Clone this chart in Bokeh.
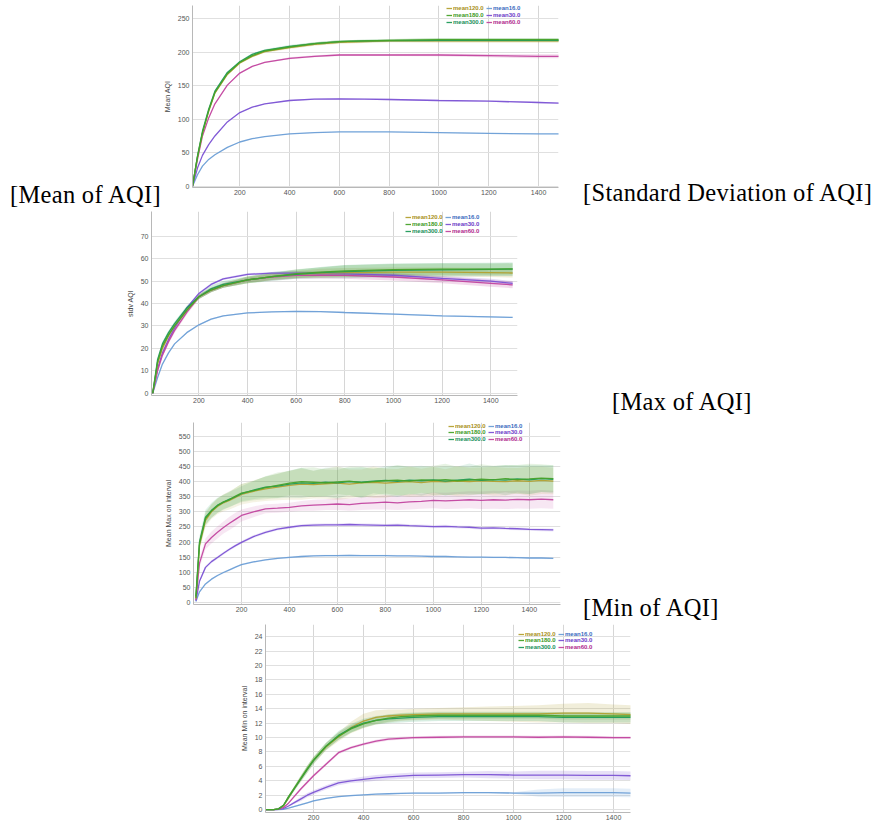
import numpy as np
from bokeh.plotting import figure
from bokeh.models import Legend, LegendItem, FixedTicker, Range1d, Div
from bokeh.embed import file_html
from bokeh.resources import INLINE

# ---------------- data ----------------
SERIES = ["mean120.0", "mean16.0", "mean180.0", "mean30.0", "mean300.0", "mean60.0"]
DRAW_ORDER = ["mean16.0", "mean30.0", "mean60.0", "mean120.0", "mean300.0", "mean180.0"]
LINE_COLORS = {"mean16.0": "#6b9ed6", "mean30.0": "#7b52d4", "mean60.0": "#c2459f",
               "mean120.0": "#b3a032", "mean180.0": "#47a22a", "mean300.0": "#1f9a5a"}
TEXT_COLORS = {"mean16.0": "#3a6cc0", "mean30.0": "#6a3cc8", "mean60.0": "#b02a8e",
               "mean120.0": "#a89020", "mean180.0": "#3c9a1e", "mean300.0": "#18905a"}
X_TICKS = [200, 400, 600, 800, 1000, 1200, 1400]

# Panel 1: Mean of AQI
X_MEAN = [10, 30, 50, 75, 100, 150, 200, 250, 300, 400, 500, 600, 700, 800, 1000, 1200, 1400, 1490]
MEAN_AQI = {
    "mean300.0": [0, 45, 82, 115, 142, 170, 186, 197, 203, 209, 213, 216, 217, 217.5, 218, 218, 218, 218],
    "mean180.0": [0, 44, 80, 113, 140, 168, 185, 195, 202, 208, 213, 216, 217, 218, 219, 219, 219, 219],
    "mean120.0": [0, 43, 79, 112, 139, 167, 184, 194, 201, 207, 212, 215, 216, 217, 217, 217, 217, 217],
    "mean60.0":  [0, 40, 75, 102, 123, 151, 169, 179, 185, 191, 194, 196, 196, 196, 196, 195, 194, 194],
    "mean30.0":  [0, 27, 46, 62, 75, 96, 110, 118, 123, 128, 130, 130.5, 130, 129.5, 128, 127, 125, 124],
    "mean16.0":  [0, 17, 30, 40, 47, 58, 66, 71, 74, 78, 80, 81, 81, 81, 80, 79, 78, 78],
}
MEAN_AQI_BAND = {
    "mean300.0": [0, 1, 1, 1, 1, 1, 1.5, 1.5, 1.5, 2, 2, 2, 2, 2, 2.5, 2.5, 2.5, 2.5],
    "mean180.0": [0, 1, 1, 1, 1, 1, 1.5, 1.5, 1.5, 2, 2, 2, 2, 2, 2.5, 2.5, 2.5, 2.5],
    "mean120.0": [0, 1, 1, 1, 1, 1, 1.5, 1.5, 1.5, 2, 2, 2, 2, 2, 2.5, 2.5, 2.5, 2.5],
    "mean60.0":  [0, 1, 1, 1, 1, 1, 1, 1, 1, 1.5, 1.5, 1.5, 1.5, 1.5, 2, 2.5, 3, 3],
    "mean30.0":  [0, 0.5, 0.5, 0.5, 0.5, 0.5, 0.5, 0.5, 0.5, 1, 1, 1, 1, 1, 1, 1, 1, 1],
    "mean16.0":  [0, 0.5, 0.5, 0.5, 0.5, 0.5, 0.5, 0.5, 0.5, 0.5, 0.5, 0.5, 0.5, 0.5, 0.5, 0.5, 0.5, 0.5],
}

# Panel 2: Standard deviation of AQI
X_STD = X_MEAN
STD_AQI = {
    "mean300.0": [0, 15, 22, 27, 31, 38, 43, 46.5, 48.5, 50.5, 52, 53, 53.8, 54.2, 54.8, 55, 55.2, 55.3],
    "mean180.0": [0, 14, 21, 26, 30, 37, 43, 46, 48, 50.5, 52, 53.3, 54, 54.5, 55.1, 55.3, 55.3, 55.4],
    "mean120.0": [0, 13, 20, 25.5, 30, 37, 43, 46, 48, 50.5, 52, 53, 53.5, 53.8, 54, 54, 53.8, 53.6],
    "mean60.0":  [0, 10, 17, 23, 28, 36, 43, 46, 48, 50.5, 51.8, 52.5, 52.6, 52.5, 51.8, 50.5, 49, 48.3],
    "mean30.0":  [0, 11, 18, 24, 29, 38, 44.5, 48.5, 51, 53, 53.5, 53.5, 53.3, 53.2, 52.6, 51.2, 50, 49],
    "mean16.0":  [0, 7, 13, 18, 22, 27, 30.5, 33, 34.5, 35.8, 36.3, 36.5, 36.4, 36.0, 35.3, 34.5, 34.0, 33.8],
}
STD_AQI_BAND = {
    "mean300.0": [0, 1, 1, 1, 1, 1, 1, 1.5, 1.5, 1.5, 2, 2, 2.5, 3, 3, 3, 3, 3],
    "mean180.0": [0, 1, 1, 1, 1, 1, 1, 1, 1, 1.5, 1.5, 2, 2, 2.5, 2.5, 2.5, 2.5, 2.5],
    "mean120.0": [0, 1, 1, 1, 1, 1, 1, 1, 1, 1.5, 1.5, 1.5, 2, 2, 2, 2, 2, 2],
    "mean60.0":  [0, 1, 1, 1, 1, 1, 1, 1, 1, 1, 1.5, 1.5, 1.5, 1.5, 1.5, 1.5, 1.5, 1.5],
    "mean30.0":  [0, 0.5, 0.5, 0.5, 0.5, 0.5, 0.5, 0.5, 0.5, 0.5, 0.5, 1, 1, 1, 1, 1, 1, 1],
    "mean16.0":  [0, 0.3, 0.3, 0.3, 0.3, 0.3, 0.3, 0.3, 0.3, 0.3, 0.3, 0.3, 0.3, 0.3, 0.3, 0.3, 0.3, 0.3],
}

# Panel 3: Max of AQI
X_MAX = [10, 25, 50, 75, 100, 125, 150, 175, 200, 250, 300, 350, 400, 450, 500, 550, 600, 650,
         700, 750, 800, 850, 900, 950, 1000, 1050, 1100, 1150, 1200, 1250, 1300, 1350, 1400, 1450, 1500]
MAX_AQI = {
    "mean300.0": [20, 200, 282, 305, 322, 332, 342, 350, 360, 372, 382, 385, 392, 396, 394, 398, 396, 400,
                  398, 402, 404, 401, 405, 403, 406, 402, 405, 408, 404, 407, 405, 409, 406, 410, 408],
    "mean180.0": [15, 195, 278, 303, 320, 333, 340, 352, 362, 370, 380, 388, 395, 400, 398, 396, 399, 402,
                  397, 400, 403, 405, 402, 406, 404, 407, 403, 405, 408, 406, 410, 407, 409, 412, 410],
    "mean120.0": [12, 190, 272, 300, 318, 330, 338, 348, 358, 368, 376, 382, 388, 392, 390, 393, 395, 392,
                  396, 398, 395, 398, 400, 397, 401, 399, 402, 400, 403, 401, 400, 403, 401, 404, 402],
    "mean60.0":  [8, 130, 194, 215, 232, 248, 262, 275, 288, 300, 310, 312, 315, 320, 322, 324, 326, 324,
                  328, 330, 332, 330, 333, 335, 338, 336, 338, 340, 338, 340, 339, 341, 340, 342, 340],
    "mean30.0":  [5, 70, 116, 135, 149, 163, 176, 188, 199, 218, 232, 243, 249, 254, 256, 257, 257, 258,
                  257, 256, 255, 256, 254, 253, 251, 252, 250, 249, 246, 247, 245, 244, 242, 241, 240],
    "mean16.0":  [3, 35, 61, 77, 89, 99, 108, 117, 125, 134, 141, 146, 149, 152, 154, 155, 155, 156,
                  155, 155, 155, 154, 154, 153, 152, 152, 151, 150, 150, 149, 149, 148, 147, 147, 146],
}
MAX_AQI_BAND = {
    "mean300.0": [5, 20, 25, 25, 25, 25, 25, 25, 25, 30, 35, 40, 45, 50, 42, 48, 52, 45,
                  50, 40, 48, 52, 45, 50, 42, 48, 45, 52, 46, 44, 50, 45, 48, 44, 46],
    "mean180.0": [5, 18, 22, 22, 24, 24, 25, 28, 30, 32, 38, 42, 40, 46, 50, 44, 40, 48,
                  52, 46, 42, 50, 47, 43, 49, 52, 46, 44, 50, 47, 45, 48, 50, 46, 44],
    "mean120.0": [5, 18, 22, 24, 26, 28, 30, 32, 34, 36, 40, 44, 48, 52, 46, 50, 56, 48,
                  44, 52, 48, 44, 50, 46, 48, 42, 50, 46, 44, 48, 46, 42, 48, 45, 44],
    "mean60.0":  [3, 15, 18, 20, 20, 20, 22, 22, 20, 18, 15, 15, 15, 16, 18, 18, 20, 20,
                  22, 22, 24, 24, 25, 25, 26, 27, 28, 28, 29, 30, 30, 30, 30, 30, 30],
    "mean30.0":  [2, 4, 5, 5, 5, 5, 5, 5, 5, 5, 5, 5, 5, 5, 5, 5, 5, 5,
                  5, 5, 5, 5, 5, 5, 5, 5, 5, 5, 5, 5, 5, 5, 5, 5, 5],
    "mean16.0":  [1, 2, 3, 3, 3, 3, 3, 3, 3, 3, 3, 3, 3, 3, 3, 3, 3, 3,
                  3, 3, 3, 3, 3, 3, 3, 3, 3, 3, 3, 3, 3, 3, 3, 3, 3],
}

# Panel 4: Min of AQI
X_MIN = [10, 40, 60, 80, 100, 125, 150, 175, 200, 250, 300, 350, 400, 450, 500, 550, 600, 700, 800,
         900, 1000, 1100, 1200, 1300, 1400, 1470]
MIN_AQI = {
    "mean300.0": [0, 0, 0.1, 0.6, 1.7, 3.0, 4.3, 5.6, 6.8, 8.8, 10.3, 11.3, 12.0, 12.4, 12.6, 12.7, 12.8,
                  12.9, 12.9, 12.9, 12.9, 12.9, 12.8, 12.8, 12.8, 12.8],
    "mean180.0": [0, 0, 0.1, 0.6, 1.8, 3.1, 4.4, 5.7, 6.9, 8.8, 10.2, 11.2, 11.9, 12.4, 12.7, 12.9, 13.0,
                  13.1, 13.1, 13.1, 13.1, 13.1, 13.0, 13.0, 13.0, 13.0],
    "mean120.0": [0, 0, 0.1, 0.5, 1.6, 3.0, 4.3, 5.6, 6.8, 8.7, 10.1, 11.4, 12.3, 12.8, 13.0, 13.1, 13.2,
                  13.3, 13.3, 13.3, 13.3, 13.3, 13.4, 13.4, 13.3, 13.2],
    "mean60.0":  [0, 0, 0.05, 0.3, 0.9, 1.9, 2.9, 3.8, 4.7, 6.3, 7.9, 8.6, 9.1, 9.5, 9.8, 9.9, 10.0,
                  10.05, 10.1, 10.1, 10.1, 10.05, 10.1, 10.05, 10.0, 10.0],
    "mean30.0":  [0, 0, 0.02, 0.15, 0.5, 1.0, 1.5, 2.0, 2.4, 3.1, 3.7, 4.0, 4.2, 4.4, 4.55, 4.65, 4.75,
                  4.8, 4.85, 4.85, 4.8, 4.8, 4.8, 4.75, 4.75, 4.7],
    "mean16.0":  [0, 0, 0, 0.05, 0.2, 0.45, 0.7, 0.95, 1.2, 1.55, 1.8, 1.95, 2.05, 2.15, 2.2, 2.25, 2.3,
                  2.3, 2.35, 2.35, 2.3, 2.3, 2.35, 2.35, 2.35, 2.3],
}
MIN_AQI_BAND = {
    "mean300.0": [0, 0, 0, 0.1, 0.2, 0.3, 0.4, 0.5, 0.5, 0.5, 0.6, 0.6, 0.6, 0.6, 0.6, 0.6, 0.6,
                  0.6, 0.6, 0.6, 0.6, 0.6, 0.7, 0.7, 0.7, 0.7],
    "mean180.0": [0, 0, 0, 0.1, 0.2, 0.3, 0.4, 0.4, 0.4, 0.5, 0.5, 0.5, 0.5, 0.5, 0.5, 0.5, 0.5,
                  0.5, 0.5, 0.5, 0.5, 0.5, 0.5, 0.5, 0.5, 0.5],
    "mean120.0": [0, 0, 0, 0.1, 0.2, 0.3, 0.4, 0.5, 0.5, 0.5, 0.6, 0.8, 1.0, 1.0, 0.9, 0.8, 0.8,
                  0.8, 0.9, 1.0, 1.1, 1.2, 1.3, 1.4, 1.3, 1.3],
    "mean60.0":  [0, 0, 0, 0.05, 0.1, 0.2, 0.2, 0.2, 0.2, 0.2, 0.2, 0.2, 0.2, 0.2, 0.2, 0.2, 0.2,
                  0.2, 0.2, 0.2, 0.2, 0.2, 0.2, 0.2, 0.2, 0.2],
    "mean30.0":  [0, 0, 0, 0.05, 0.1, 0.2, 0.3, 0.3, 0.3, 0.3, 0.3, 0.3, 0.4, 0.4, 0.4, 0.4, 0.4,
                  0.4, 0.4, 0.5, 0.5, 0.6, 0.6, 0.6, 0.6, 0.6],
    "mean16.0":  [0, 0, 0, 0, 0.05, 0.1, 0.1, 0.1, 0.1, 0.1, 0.1, 0.1, 0.1, 0.1, 0.1, 0.1, 0.1,
                  0.1, 0.1, 0.1, 0.1, 0.5, 0.6, 0.6, 0.6, 0.6],
}

CAPTIONS = ["[Mean of AQI]", "[Standard Deviation of AQI]", "[Max of AQI]", "[Min of AQI]"]
# caption placement on the page: (left x, top y)
CAPTION_POS = [(5, 176), (578, 174), (607, 383), (578, 589)]

PAGE_W = 877
FONT = "Liberation Sans"
SERIF = "Liberation Serif"


def make_panel(xs, data, band, H, T, B, left, right_edge, xr, yr, yticks, ylabel, legend_rows,
               band_alpha):
    R = PAGE_W - right_edge
    p = figure(width=PAGE_W, height=H, x_range=Range1d(*xr), y_range=Range1d(*yr),
               output_backend="svg", toolbar_location=None,
               min_border_left=left, min_border_right=R, min_border_top=T, min_border_bottom=B)
    p.outline_line_color = None
    p.background_fill_color = "white"
    p.border_fill_color = None
    p.border_fill_alpha = 0

    frame_w = PAGE_W - left - R
    frame_h = H - T - B

    xa = p.xaxis[0]
    ya = p.yaxis[0]
    xa.ticker = FixedTicker(ticks=X_TICKS)
    ya.ticker = FixedTicker(ticks=yticks)
    for ax in (xa, ya):
        ax.axis_line_color = "#b8b8b8"
        ax.major_tick_line_color = None
        ax.minor_tick_line_color = None
        ax.major_tick_out = 0
        ax.major_tick_in = 0
        ax.minor_tick_out = 0
        ax.minor_tick_in = 0
        ax.major_label_text_font = FONT
        ax.major_label_text_font_size = "7px"
        ax.major_label_text_color = "#555555"
    xa.major_label_standoff = 2
    ya.major_label_standoff = 3
    ya.axis_label = ylabel
    ya.axis_label_text_font = FONT
    ya.axis_label_text_font_size = "7px"
    ya.axis_label_text_font_style = "normal"
    ya.axis_label_text_color = "#444444"
    ya.axis_label_standoff = 4
    p.xgrid.ticker = FixedTicker(ticks=X_TICKS)
    p.ygrid.ticker = FixedTicker(ticks=yticks)
    p.xgrid.grid_line_color = "#d6d6d6"
    p.ygrid.grid_line_color = "#e0e0e0"

    x = np.array(xs, dtype=float)
    for s in DRAW_ORDER:
        y = np.array(data[s], dtype=float)
        b = np.array(band[s], dtype=float)
        p.varea(x=x, y1=y - b, y2=y + b, fill_color=LINE_COLORS[s], fill_alpha=band_alpha)
    renderers = {}
    for s in DRAW_ORDER:
        renderers[s] = p.line(xs, data[s], line_color=LINE_COLORS[s], line_width=1.3, line_alpha=0.95)

    cols = [frame_w - 112, frame_w - 72]
    for i, s in enumerate(SERIES):
        col = i % 2
        row = i // 2
        ly = frame_h - legend_rows[row] - 3.5
        leg = Legend(items=[LegendItem(label=s, renderers=[renderers[s]])],
                     location=(cols[col], ly), orientation="horizontal",
                     padding=0, margin=0, spacing=0, label_standoff=1,
                     glyph_width=6, glyph_height=6, label_height=6, label_width=10,
                     label_text_font=FONT, label_text_font_size="6px",
                     label_text_font_style="bold", label_text_color=TEXT_COLORS[s],
                     border_line_color=None, background_fill_alpha=0)
        p.add_layout(leg)
    return p


# legend rows given relative to each frame's top
p1 = make_panel(X_MEAN, MEAN_AQI, MEAN_AQI_BAND, 208, 5, 21, 192, 558, (10, 1480), (-2, 270),
                [0, 50, 100, 150, 200, 250], "Mean AQI", [2.5, 9.5, 16.5], 0.2)
p2 = make_panel(X_STD, STD_AQI, STD_AQI_BAND, 208, 3, 21, 151, 517, (5, 1510), (-1, 81),
                [0, 10, 20, 30, 40, 50, 60, 70], "stdv AQI", [5, 12.3, 19.7], 0.2)
p3 = make_panel(X_MAX, MAX_AQI, MAX_AQI_BAND, 205, 6, 17, 193, 560, (0, 1530), (-7, 596),
                list(range(0, 551, 50)), "Mean Max on interval", [3, 9.7, 16.3], 0.13)
p4 = make_panel(X_MIN, MIN_AQI, MIN_AQI_BAND, 206, 3, 15, 265, 630, (8, 1468), (-0.4, 25.7),
                list(range(0, 25, 2)), "Mean Min on interval", [9, 15.5, 22], 0.18)

spans = "".join(
    f'<div style="position:absolute;left:{x}px;top:{y}px;white-space:nowrap;'
    f'font-family:\'{SERIF}\';font-size:24.5px;letter-spacing:0.3px;line-height:28px;'
    f'color:#000;z-index:10;">{t}</div>'
    for t, (x, y) in zip(CAPTIONS, CAPTION_POS))
captions = Div(text=spans, width=PAGE_W, height=0,
               styles={"position": "absolute", "left": "0px", "top": "0px", "z-index": "10",
                       "overflow": "visible"})

open("out.html", "w").write(file_html([captions, p1, p2, p3, p4], INLINE))
